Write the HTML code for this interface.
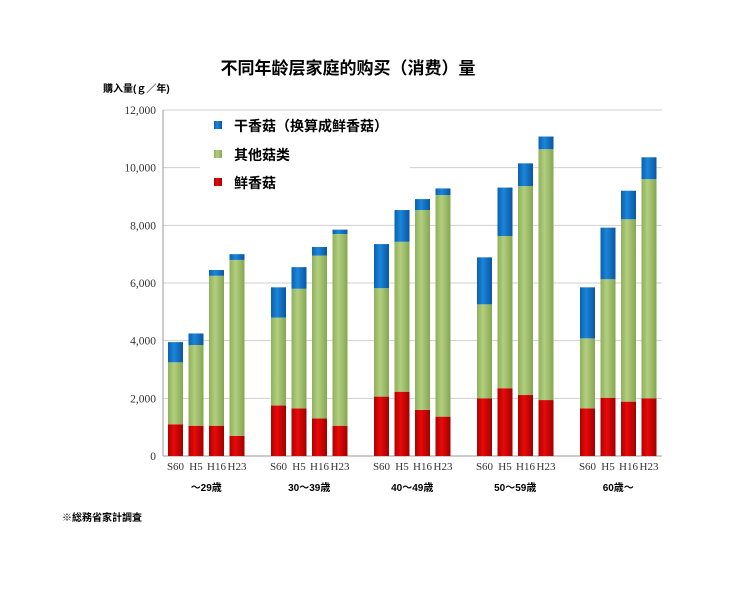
<!DOCTYPE html>
<html><head><meta charset="utf-8"><style>
body{margin:0;background:#fff;width:733px;height:600px;overflow:hidden;font-family:"Liberation Sans","Noto Sans CJK SC",sans-serif}
svg text{font-family:"Liberation Serif","Noto Serif CJK SC",serif}
.cjk{font-family:"Liberation Sans","Noto Sans CJK SC",sans-serif;font-weight:bold}
</style></head><body>
<svg width="733" height="600">
<defs>
<linearGradient id="gr" x1="0" x2="1"><stop offset="0" stop-color="#b00000"/><stop offset="0.4" stop-color="#e80a0a"/><stop offset="1" stop-color="#a00000"/></linearGradient>
<linearGradient id="gg" x1="0" x2="1"><stop offset="0" stop-color="#8fb058"/><stop offset="0.4" stop-color="#b2cf80"/><stop offset="1" stop-color="#86a650"/></linearGradient>
<linearGradient id="gb" x1="0" x2="1"><stop offset="0" stop-color="#0a5fb0"/><stop offset="0.4" stop-color="#1b86d8"/><stop offset="1" stop-color="#0a55a0"/></linearGradient>
</defs>
<text x="348" y="74" text-anchor="middle" class="cjk" font-size="17">不同年龄层家庭的购买（消费）量</text>
<text x="103" y="92" class="cjk" font-size="10">購入量(ｇ／年)</text>
<g id="grid"></g>
<g id="bars"></g>
<rect x="200" y="113" width="210" height="86" fill="#fff"/>
<g>
<rect x="214" y="121" width="8" height="8" fill="url(#gb)"/>
<text x="234" y="131" class="cjk" font-size="14">干香菇（换算成鲜香菇）</text>
<rect x="214" y="150" width="8" height="8" fill="url(#gg)"/>
<text x="234" y="160" class="cjk" font-size="14">其他菇类</text>
<rect x="214" y="178" width="8" height="8" fill="url(#gr)"/>
<text x="234" y="188" class="cjk" font-size="14">鲜香菇</text>
</g>
<text x="62" y="521" class="cjk" font-size="10">※総務省家計調査</text>
</svg>
<script>
const groups=["～29歳","30～39歳","40～49歳","50～59歳","60歳～"];
const years=["S60","H5","H16","H23"];
const fresh=[1100,1050,1050,700, 1750,1650,1300,1050, 2060,2230,1600,1365, 2000,2350,2115,1940, 1650,2020,1885,2000];
const other=[2150,2800,5200,6100, 3050,4150,5650,6650, 3760,5200,6930,7685, 3260,5280,7245,8700, 2430,4110,6325,7600];
const dried=[700,400,200,200, 1050,750,300,150, 1530,1100,380,230, 1630,1680,790,440, 1770,1790,990,760];
const yTicks=[0,2000,4000,6000,8000,10000,12000];
const tickLabels=["0","2,000","4,000","6,000","8,000","10,000","12,000"];
const NS="http://www.w3.org/2000/svg";
const y0=456,y1=110,ymax=12000,px0=163,px1=662;
function Y(v){return y0-(v/ymax)*(y0-y1);}
function X(i){const g=Math.floor(i/4),k=i%4;return 168+g*103+k*20.5;}
const bw=15;
const grid=document.getElementById('grid');
yTicks.forEach((t,i)=>{
 const l=document.createElementNS(NS,'line');
 l.setAttribute('x1',px0);l.setAttribute('x2',px1);l.setAttribute('y1',Y(t));l.setAttribute('y2',Y(t));
 l.setAttribute('stroke',t===0?'#999':'#cfcfcf');l.setAttribute('stroke-width','1');
 
 
 grid.appendChild(l);
 const tx=document.createElementNS(NS,'text');
 tx.setAttribute('x',156);tx.setAttribute('y',Y(t)+4);tx.setAttribute('text-anchor','end');tx.setAttribute('font-size','11.5');tx.setAttribute('fill','#333');
 tx.textContent=tickLabels[i];
 
 
 grid.appendChild(tx);
});
const ax=document.createElementNS(NS,'line');
ax.setAttribute('x1',px0);ax.setAttribute('x2',px0);ax.setAttribute('y1',y1);ax.setAttribute('y2',y0);ax.setAttribute('stroke','#999');


grid.appendChild(ax);
const bars=document.getElementById('bars');
function rect(x,v0,v1,fill,name){
 const r=document.createElementNS(NS,'rect');
 r.setAttribute('x',x);r.setAttribute('width',bw);r.setAttribute('y',Y(v1));r.setAttribute('height',Y(v0)-Y(v1));r.setAttribute('fill',fill);
 
 
 bars.appendChild(r);
}
for(let i=0;i<fresh.length;i++){
 const x=X(i);
 const a=fresh[i],b=a+other[i],c=b+dried[i];
 rect(x,0,a,'url(#gr)','bar-fresh');
 rect(x,a,b,'url(#gg)','bar-other');
 rect(x,b,c,'url(#gb)','bar-dried');
 const t=document.createElementNS(NS,'text');
 t.setAttribute('x',x+bw/2);t.setAttribute('y',470);t.setAttribute('text-anchor','middle');t.setAttribute('font-size','11');t.setAttribute('fill','#333');
 t.textContent=years[i%4];
 
 
 bars.appendChild(t);
}
groups.forEach((g,j)=>{
 const t=document.createElementNS(NS,'text');
 t.setAttribute('x',(X(j*4)+X(j*4+3)+bw)/2);t.setAttribute('y',491);t.setAttribute('text-anchor','middle');t.setAttribute('font-size','10');t.setAttribute('class','cjk');
 t.textContent=g;
 
 
 bars.appendChild(t);
});
</script>
</body></html>
